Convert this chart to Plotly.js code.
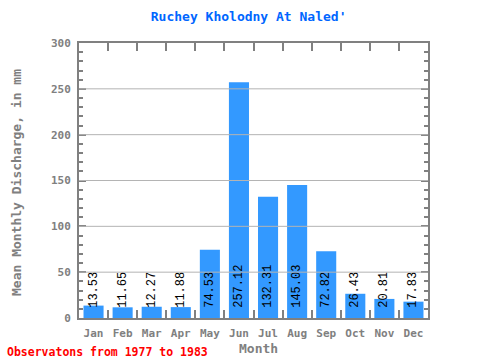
<!DOCTYPE html>
<html>
<head>
<meta charset="utf-8">
<script src="https://cdn.plot.ly/plotly-3.0.1.min.js"></script>
<style>html,body{margin:0;padding:0;background:#fff;}#chart{width:480px;height:360px;}</style>
</head>
<body>
<div id="chart"></div>
<script>
var months = ["Jan","Feb","Mar","Apr","May","Jun","Jul","Aug","Sep","Oct","Nov","Dec"];
var discharge = [13.53, 11.65, 12.27, 11.88, 74.53, 257.12, 132.31, 145.03, 72.82, 26.43, 20.81, 17.83];
var valueLabels = ["13.53","11.65","12.27","11.88","74.53","257.12","132.31","145.03","72.82","26.43","20.81","17.83"];
var gridValues = [50, 100, 150, 200, 250];
var yTickValues = [0, 50, 100, 150, 200, 250, 300];

var axisGray = "#808080";
var monoFam = "DejaVu Sans Mono, monospace";
var tickFont = {family: monoFam, color: axisGray, size: 11, weight: "bold"};

var shapes = gridValues.map(function(v){
  return {type: "line", xref: "paper", x0: 0, x1: 1, yref: "y", y0: v, y1: v,
          line: {color: "#b4b4b4", width: 1}, layer: "above"};
});

var trace = {
  type: "bar",
  x: months,
  y: discharge,
  text: valueLabels,
  texttemplate: "\u00A0%{text}",
  textposition: "inside",
  insidetextanchor: "start",
  textangle: -90,
  constraintext: "none",
  cliponaxis: false,
  textfont: {family: "Liberation Mono, Courier New, monospace", size: 12, color: "#000000"},
  marker: {color: "#3399ff", line: {width: 0}},
  hoverinfo: "none"
};

var layout = {
  width: 480, height: 360,
  margin: {l: 79, r: 52, t: 43, b: 42},
  paper_bgcolor: "#ffffff",
  plot_bgcolor: "#ffffff",
  showlegend: false,
  bargap: 0.31,
  title: {
    text: "Ruchey Kholodny At Naled'",
    font: {family: monoFam, size: 13, color: "#0066ff", weight: "bold"},
    xref: "container", x: 0.518, xanchor: "center",
    yref: "container", y: 0.953, yanchor: "middle"
  },
  xaxis: {
    type: "category",
    showline: true, linecolor: axisGray, linewidth: 2, mirror: "allticks",
    ticks: "inside", ticklen: 8, tickwidth: 2, tickcolor: axisGray,
    tickson: "boundaries",
    tickangle: 0,
    showgrid: false,
    tickfont: tickFont,
    ticklabelstandoff: 4
  },
  yaxis: {
    range: [0, 300],
    tickvals: yTickValues,
    showline: true, linecolor: axisGray, linewidth: 2, mirror: "allticks",
    ticks: "inside", ticklen: 7, tickwidth: 2, tickcolor: axisGray,
    minor: {dtick: 10, ticks: "inside", ticklen: 4, tickwidth: 2, tickcolor: axisGray, showgrid: false},
    showgrid: false, zeroline: false,
    tickfont: tickFont,
    ticklabelstandoff: 4
  },
  shapes: shapes,
  annotations: [{
    text: "Mean Monthly Discharge, in mm",
    textangle: -90,
    xref: "paper", x: (17 - 79) / 349, xanchor: "center",
    yref: "paper", y: (318 - 183) / 275, yanchor: "middle",
    showarrow: false,
    font: {family: monoFam, size: 13, color: axisGray, weight: "bold"}
  }, {
    text: "Month",
    xref: "paper", x: (258 - 79) / 349, xanchor: "center",
    yref: "paper", y: (318 - 348) / 275, yanchor: "middle",
    showarrow: false,
    font: {family: monoFam, size: 13, color: axisGray, weight: "bold"}
  }, {
    text: "Observatons from 1977 to 1983",
    xref: "paper", x: -74 / 349, xanchor: "left",
    yref: "paper", y: -34 / 275, yanchor: "middle",
    showarrow: false,
    font: {family: monoFam, size: 11.5, color: "#ff0000", weight: "bold"}
  }]
};

Plotly.newPlot("chart", [trace], layout, {displayModeBar: false, staticPlot: true});
</script>
</body>
</html>
